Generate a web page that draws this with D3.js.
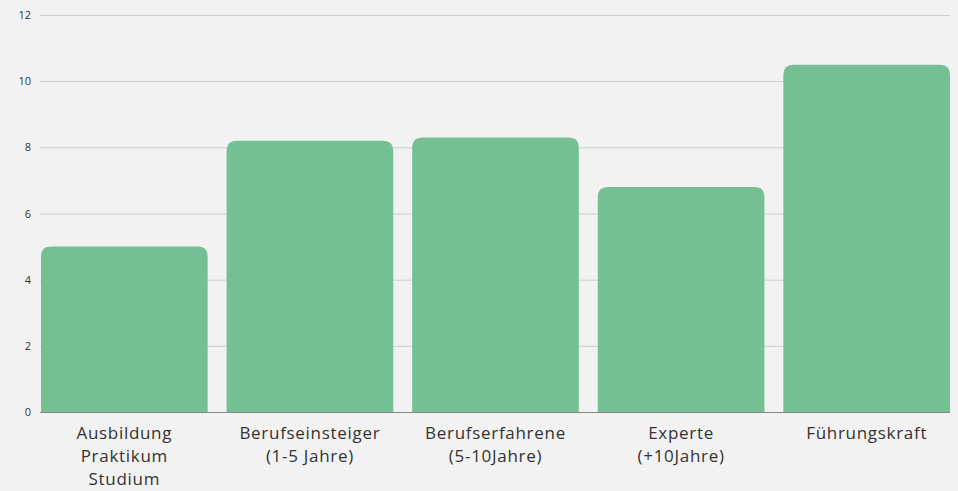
<!DOCTYPE html>
<html lang="de">
<head>
<meta charset="utf-8">
<title>Chart</title>
<script src="https://cdn.jsdelivr.net/npm/d3@7"></script>
<style>
  body { margin:0; background:#f2f2f2; font-family:"Open Sans", sans-serif; }
</style>
</head>
<body>
<script>
// categories (each line of the label) and values
var categories = [
  ["Ausbildung", "Praktikum", "Studium"],
  ["Berufseinsteiger", "(1-5 Jahre)"],
  ["Berufserfahrene", "(5-10Jahre)"],
  ["Experte", "(+10Jahre)"],
  ["Führungskraft"]
];
var values = [5.0, 8.2, 8.3, 6.8, 10.5];
var yTicks = [0, 2, 4, 6, 8, 10, 12];

var w = 958, h = 491;
var mLeft = 41, mRight = 950, mTop = 15, mBottom = 412;

var svg = d3.select("body").append("svg")
  .attr("width", w).attr("height", h)
  .style("display", "block");

var x = d3.scaleBand()
  .domain(d3.range(values.length))
  .range([mLeft, mRight])
  .paddingInner(0.102)
  .paddingOuter(0);

var y = d3.scaleLinear().domain([0, 12]).range([mBottom, mTop]);

// gridlines
svg.append("g").selectAll("line")
  .data(yTicks.filter(function(d){ return d > 0; }))
  .enter().append("line")
  .attr("x1", 40).attr("x2", mRight)
  .attr("y1", function(d){ return y(d) + 0.5; })
  .attr("y2", function(d){ return y(d) + 0.5; })
  .attr("stroke", "#cccccc").attr("stroke-width", 1);

// baseline
svg.append("line")
  .attr("x1", 40).attr("x2", mRight)
  .attr("y1", y(0) + 0.5).attr("y2", y(0) + 0.5)
  .attr("stroke", "#888").attr("stroke-width", 1);

// y axis labels
var yAxis = d3.axisLeft(y).tickValues(yTicks).tickSize(0).tickPadding(0);
var ga = svg.append("g").attr("transform", "translate(31,0)").call(yAxis);
ga.select(".domain").remove();
ga.selectAll("text")
  .attr("font-size", "11px")
  .attr("font-family", "'Open Sans', sans-serif")
  .attr("fill", "#333");

// bars with rounded top corners
var r = 10;
function barPath(i) {
  var x0 = x(i), x1 = x(i) + x.bandwidth(), y0 = y(values[i]), yb = y(0);
  return "M" + x0 + "," + yb +
    "L" + x0 + "," + (y0 + r) +
    "Q" + x0 + "," + y0 + " " + (x0 + r) + "," + y0 +
    "L" + (x1 - r) + "," + y0 +
    "Q" + x1 + "," + y0 + " " + x1 + "," + (y0 + r) +
    "L" + x1 + "," + yb + "Z";
}
svg.append("g").selectAll("path")
  .data(values)
  .enter().append("path")
  .attr("d", function(d, i){ return barPath(i); })
  .attr("fill", "#74bf94");

// category labels
var lab = svg.append("g").selectAll("text")
  .data(categories)
  .enter().append("text")
  .attr("text-anchor", "middle")
  .attr("font-size", "17px")
  .attr("letter-spacing", "0.7px")
  .attr("fill", "#333")
  .attr("x", function(d, i){ return x(i) + x.bandwidth() / 2; })
  .attr("y", 439);
lab.selectAll("tspan")
  .data(function(d){ return d; })
  .enter().append("tspan")
  .attr("x", function(){ return d3.select(this.parentNode).attr("x"); })
  .attr("dy", function(d, j){ return j === 0 ? 0 : 23; })
  .text(function(d){ return d; });
</script>
</body>
</html>
